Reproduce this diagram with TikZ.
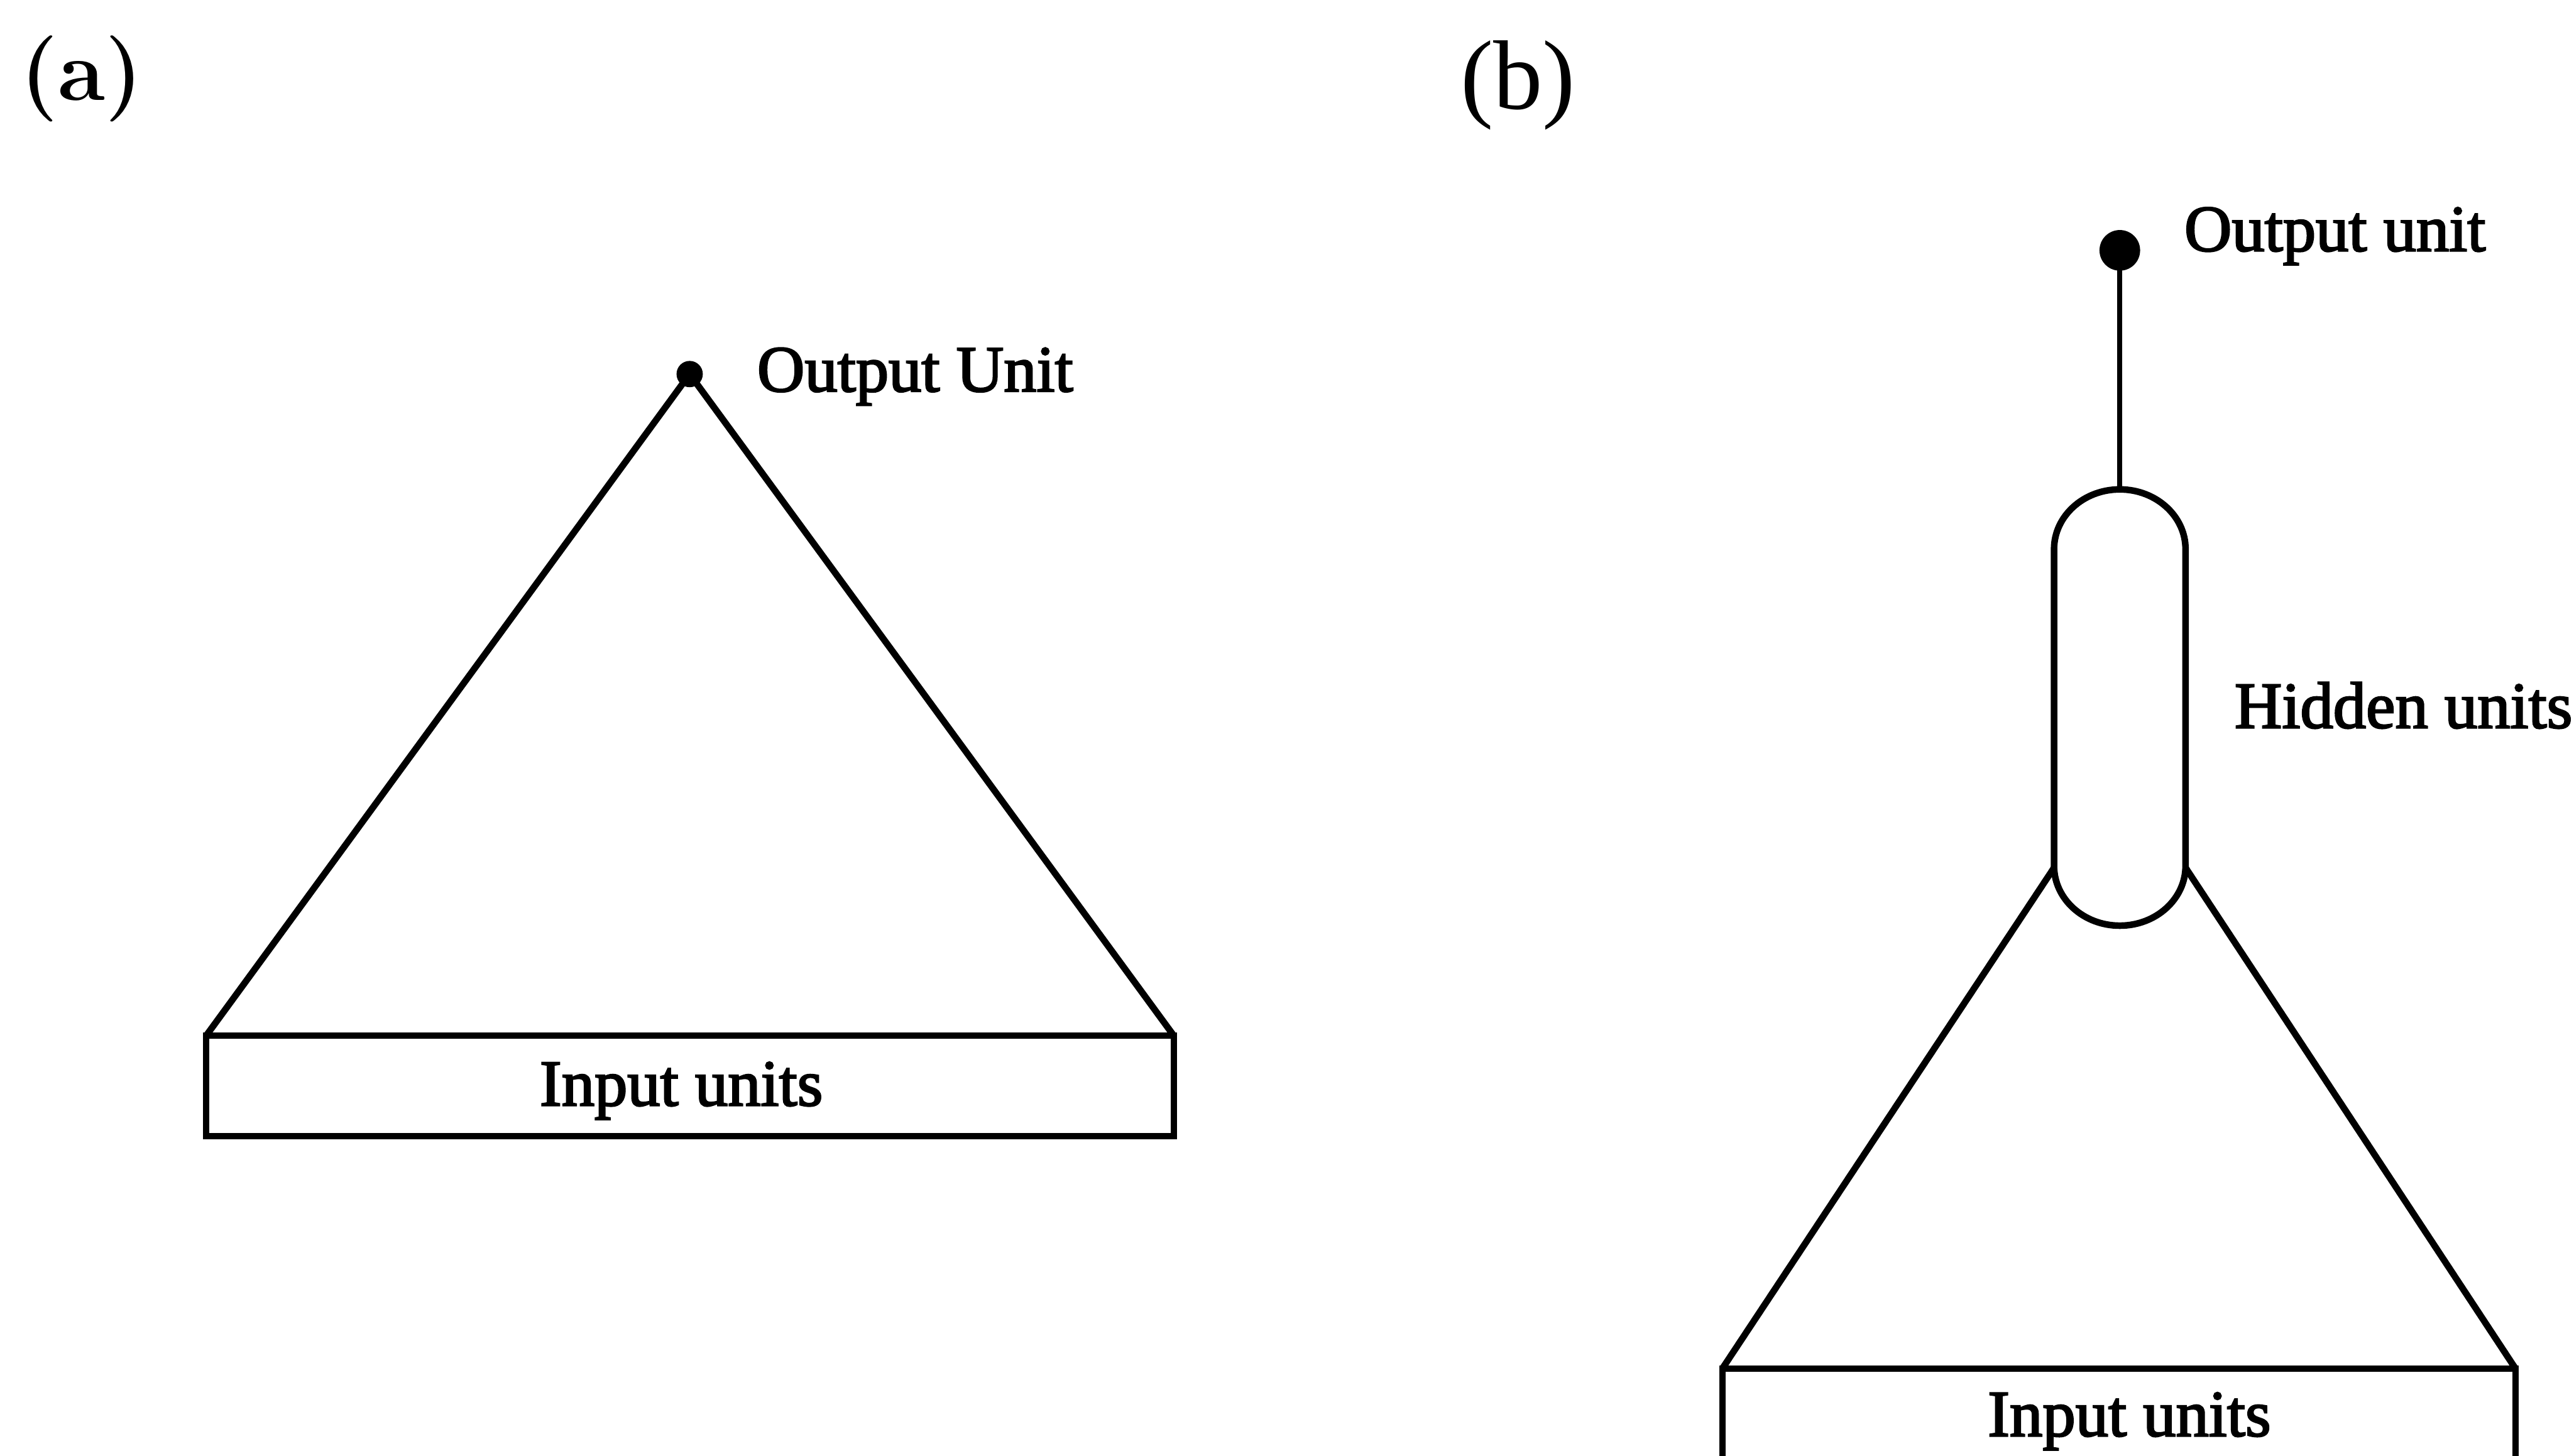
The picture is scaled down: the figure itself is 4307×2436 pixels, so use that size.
\documentclass[tikz,border=0pt]{standalone}
\usepackage{fontspec}
\newfontfamily\tms[FakeBold=2.5]{Liberation Serif}
\newfontfamily\tmsplain{Liberation Serif}

\begin{document}
\begin{tikzpicture}[x=0.1pt,y=0.1pt,
  lab/.style={font=\tms\fontsize{11pt}{13pt}\selectfont, inner sep=0, anchor=base west},
  wire/.style={line width=1.1pt, line join=miter},
  stem/.style={line width=0.8pt},
  unitdot/.style={circle, fill=black, inner sep=0, outer sep=0},
  layerbox/.style={draw, line width=1.1pt, inner sep=0, outer sep=0}]
\useasboundingbox (0,0) rectangle (4307,2436);
\clip (0,0) rectangle (4307,2436);

% ---- (a) single-layer network ----
\node[font=\fontsize{14.4pt}{16pt}\selectfont\bfseries, inner sep=0, anchor=base west] (tagA) at (32,2268) {(a)};
\node[unitdot, minimum size=4.4pt] (outA) at (1154,1810) {};
\node[lab] (outAlab) at (1265,1781) {Output Unit};
\node[layerbox, minimum width=161.9pt, minimum height=16.8pt] (inA) at (1154.5,619) {};
\node[lab, anchor=base] (inAlab) at (1140,586) {Input units};
\draw[wire] (inA.north west) -- (outA.center) -- (inA.north east);

% ---- (b) network with a hidden layer ----
\node[font=\tmsplain\fontsize{16.5pt}{18pt}\selectfont, inner sep=0, anchor=base west] (tagB) at (2442,2254) {(b)};
\node[unitdot, minimum size=6.8pt] (outB) at (3547,2017) {};
\node[lab] (outBlab) at (3653,2016) {Output unit};

% hidden layer drawn as a capsule
\coordinate (hidTop) at (3547,1617);
\coordinate (hidL) at (3437,984);
\coordinate (hidR) at (3657,984);
\draw[wire] (3437,1517) arc[start angle=180, end angle=0, x radius=110, y radius=100]
  -- (3657,987) arc[start angle=0, end angle=-180, x radius=110, y radius=100] -- cycle;
\node[lab] (hidlab) at (3737,1218) {Hidden units};
\draw[stem] (outB.center) -- (hidTop);

\node[layerbox, minimum width=132.7pt, minimum height=20pt] (inB) at (3545.5,46) {};
\node[lab, anchor=base] (inBlab) at (3563,33) {Input units};
\draw[wire] (inB.north west) -- (hidL);
\draw[wire] (inB.north east) -- (hidR);
\end{tikzpicture}
\end{document}
